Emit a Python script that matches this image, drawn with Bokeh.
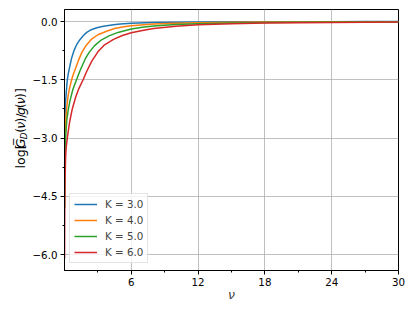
import math
from bokeh.plotting import figure
from bokeh.layouts import row
from bokeh.models import Range1d, FixedTicker
from bokeh.core.properties import value
from bokeh.embed import file_html
from bokeh.resources import INLINE

# ---- data ----
k_labels = ["K = 3.0", "K = 4.0", "K = 5.0", "K = 6.0"]
colors = ["#1f77b4", "#ff7f0e", "#2ca02c", "#d62728"]

nu_k3 = [0.01, 0.05, 0.1, 0.15, 0.25, 0.35, 0.5, 0.65, 0.85, 1.1, 1.4, 1.7, 2.0, 2.4, 2.9, 3.5, 4.4, 5, 6, 8, 10, 12, 15, 18, 21, 24, 27, 30]
val_k3 = [-3.2, -2.4, -2.05, -1.85, -1.5, -1.33, -1.12, -0.93, -0.75, -0.59, -0.46, -0.36, -0.28, -0.21, -0.16, -0.12, -0.085, -0.066, -0.045, -0.025, -0.016, -0.011, -0.007, -0.005, -0.004, -0.003, -0.002, -0.002]

nu_k4 = [0.01, 0.05, 0.1, 0.2, 0.33, 0.45, 0.64, 0.8, 1.0, 1.25, 1.55, 1.9, 2.44, 3.0, 3.78, 4.5, 5.2, 6, 8, 10, 12, 15, 18, 21, 24, 27, 30]
val_k4 = [-4.0, -3.0, -2.6, -2.2, -1.9, -1.72, -1.5, -1.35, -1.2, -1.0, -0.8, -0.63, -0.45, -0.34, -0.25, -0.18, -0.14, -0.11, -0.065, -0.045, -0.032, -0.02, -0.014, -0.01, -0.008, -0.006, -0.005]

nu_k5 = [0.01, 0.05, 0.1, 0.2, 0.35, 0.5, 0.75, 1.08, 1.4, 1.85, 2.2, 2.7, 3.33, 4.0, 4.8, 6, 7, 8, 10, 12, 15, 18, 21, 24, 27, 30]
val_k5 = [-4.8, -3.4, -3.0, -2.55, -2.25, -2.03, -1.75, -1.5, -1.26, -0.97, -0.8, -0.62, -0.47, -0.37, -0.28, -0.19, -0.145, -0.115, -0.075, -0.055, -0.037, -0.026, -0.019, -0.015, -0.012, -0.01]

nu_k6 = [0.005, 0.02, 0.05, 0.1, 0.15, 0.25, 0.45, 0.7, 1.0, 1.3, 1.67, 2.0, 2.45, 3.0, 3.6, 4.4, 5.2, 6, 7, 8, 10, 12, 15, 18, 21, 24, 27, 30]
val_k6 = [-6.1, -5.0, -4.1, -3.5, -3.25, -3.0, -2.6, -2.25, -1.95, -1.72, -1.5, -1.28, -1.02, -0.78, -0.6, -0.46, -0.36, -0.29, -0.23, -0.18, -0.12, -0.085, -0.058, -0.04, -0.03, -0.023, -0.018, -0.015]

x_ticks = [6, 12, 18, 24, 30]
x_minor = [3, 9, 15, 21, 27]
y_ticks = [0.0, -1.5, -3.0, -4.5, -6.0]
y_tick_labels = ["0.0", "\u22121.5", "\u22123.0", "\u22124.5", "\u22126.0"]
y_minor = [-0.75, -2.25, -3.75, -5.25]

xmin, xmax = 0.0, 30.0
ymin, ymax = -6.41, 0.31

FONT = "DejaVu Sans"
H = 311
LW = 29                      # width of the strip holding the y-axis label
W = 408 - LW
BL, BR, BT, BB = 63 - LW, 10, 9, 41

p = figure(width=W, height=H, output_backend="svg", toolbar_location=None,
           x_range=Range1d(xmin, xmax), y_range=Range1d(ymin, ymax),
           min_border_left=BL, min_border_right=BR, min_border_top=BT, min_border_bottom=BB)
p.background_fill_color = "white"
p.border_fill_color = "white"
p.outline_line_color = "black"
p.outline_line_width = 1

series = [(nu_k3, val_k3), (nu_k4, val_k4), (nu_k5, val_k5), (nu_k6, val_k6)]
for (xs, ys), c, lab in zip(series, colors, k_labels):
    p.line(xs, ys, line_color=c, line_width=1.5, legend_label=lab)

p.xaxis.ticker = FixedTicker(ticks=x_ticks, minor_ticks=x_minor)
p.yaxis.ticker = FixedTicker(ticks=y_ticks, minor_ticks=y_minor)
p.yaxis.major_label_overrides = {t: l for t, l in zip(y_ticks, y_tick_labels)}
for ax in (p.xaxis, p.yaxis):
    ax.axis_line_color = "black"
    ax.axis_line_width = 1
    ax.major_tick_line_color = "black"
    ax.minor_tick_line_color = "black"
    ax.major_tick_out = 4
    ax.major_tick_in = 0
    ax.minor_tick_out = 2
    ax.minor_tick_in = 0
    ax.major_label_text_font = FONT
    ax.major_label_text_font_size = "10.3px"
    ax.major_label_text_color = "black"
    ax.major_label_standoff = 3

p.xaxis.axis_label = "\u03bd"
p.xaxis.axis_label_text_font = FONT
p.xaxis.axis_label_text_font_style = "italic"
p.xaxis.axis_label_text_font_size = "12.5px"
p.xaxis.axis_label_standoff = -2

p.xgrid.ticker = FixedTicker(ticks=x_ticks)
p.ygrid.ticker = FixedTicker(ticks=y_ticks)
for g in (p.xgrid, p.ygrid):
    g.grid_line_color = "#b0b0b0"
    g.grid_line_width = 0.8

lg = p.legend[0]
lg.location = (5, 7)
lg.label_text_font = FONT
lg.label_text_font_size = "10.3px"
lg.glyph_width = 23
lg.glyph_height = 12
lg.label_height = 12
lg.label_standoff = 8
lg.spacing = 4
lg.padding = 4
lg.margin = 0
lg.border_line_color = "#cccccc"
lg.border_line_width = 1
lg.background_fill_alpha = 0.8

# ---- strip with the y-axis label, composed like mathtext ----
q = figure(width=LW, height=H, output_backend="svg", toolbar_location=None,
           x_range=Range1d(0, LW), y_range=Range1d(0, H),
           x_axis_type=None, y_axis_type=None,
           min_border_left=0, min_border_right=0, min_border_top=0, min_border_bottom=0)
q.outline_line_color = None
q.grid.visible = False
q.background_fill_color = "white"
q.border_fill_color = "white"

fs = 12.5
pieces = [("log[", "normal", 1.0, 0.0, 1.915, 0.0),
          ("G\u0305", "italic", 1.0, 0.0, 0.775, 1.0),
          ("D", "italic", 0.7, 3.0, 0.770, 1.0),
          ("(", "normal", 1.0, 0.0, 0.39, 0.0),
          ("\u03bd", "italic", 1.0, 0.0, 0.592, 0.0),
          (")/", "normal", 1.0, 0.0, 0.727, 0.0),
          ("g", "italic", 1.0, 0.0, 0.635, 0.0),
          ("(", "normal", 1.0, 0.0, 0.39, 0.0),
          ("\u03bd", "italic", 1.0, 0.0, 0.592, 0.0),
          (")]", "normal", 1.0, 0.0, 0.78, 0.0)]
frame_cy = H - (BT + (H - BT - BB) / 2)   # frame centre, measured from bottom
total_px = sum(fs * sc * w + gap for _, _, sc, _, w, gap in pieces)
cur = frame_cy - total_px / 2 - 3
for txt, style, sc, dx, w, gap in pieces:
    q.text(x=[20 + dx], y=[cur], text=[txt], angle=math.pi / 2,
           text_font=value(FONT), text_font_style=style,
           text_font_size=f"{fs*sc:.2f}px", text_align="left",
           text_baseline="middle", text_color="black")
    cur += fs * sc * w + gap

layout = row(q, p, spacing=0)
open("out.html", "w").write(file_html(layout, INLINE))
